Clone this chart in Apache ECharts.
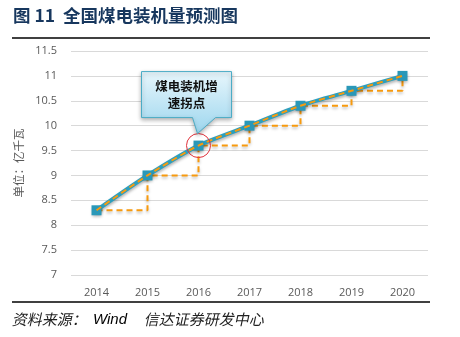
<!DOCTYPE html>
<html><head><meta charset="utf-8">
<script src="https://cdn.jsdelivr.net/npm/echarts@6/dist/echarts.min.js"></script>
<style>html,body{margin:0;padding:0;background:#fff}#c{width:460px;height:337px}</style>
</head><body><div id="c"></div>
<script>
const years = ['2014','2015','2016','2017','2018','2019','2020'];
const capacity = [8.3, 9.0, 9.6, 10.0, 10.4, 10.7, 11.0];
const yTicks = {min: 7, max: 11.5, interval: 0.5};
const titleText = '图 11  全国煤电装机量预测图';
const unitText = '单位：亿千瓦';
const calloutText = '煤电装机增\n速拐点';
const calloutYear = '2016';
const sourceCn1 = '资料来源：';
const sourceEn = 'Wind';
const sourceCn2 = '信达证券研发中心';

const teal = '#2C9FBE';
const orange = '#F79A0E';
const chart = echarts.init(document.getElementById('c'), null, {renderer: 'canvas'});
const font = '"Noto Sans CJK SC","Noto Sans",sans-serif';

chart.setOption({
  animation: false,
  textStyle: {fontFamily: font},
  grid: {left: 71, right: 32, top: 51, bottom: 62},
  xAxis: {
    type: 'category', data: years, boundaryGap: true,
    axisLine: {show: false}, axisTick: {show: false},
    axisLabel: {color: '#595959', fontSize: 11, margin: 12, fontFamily: '"Open Sans",sans-serif'}
  },
  yAxis: {
    type: 'value', min: yTicks.min, max: yTicks.max, interval: yTicks.interval,
    name: unitText, nameLocation: 'middle', nameGap: 44,
    nameTextStyle: {color: '#595959', fontSize: 11.5},
    axisLine: {show: false}, axisTick: {show: false},
    axisLabel: {color: '#595959', fontSize: 11, margin: 14, fontFamily: '"Open Sans",sans-serif'},
    splitLine: {lineStyle: {color: '#D9D9D9', width: 1}}
  },
  series: [
    {
      type: 'line', data: capacity, step: 'end', z: 2,
      symbol: 'none',
      lineStyle: {color: orange, width: 2, type: [6, 4], shadowColor: 'rgba(0,0,0,0.25)', shadowBlur: 3, shadowOffsetY: 2}
    },
    {
      type: 'line', data: capacity, smooth: 0.25, z: 3,
      symbol: 'rect', symbolSize: 10,
      itemStyle: {color: '#2A98B8', shadowColor: 'rgba(0,0,0,0.3)', shadowBlur: 3, shadowOffsetY: 2},
      lineStyle: {color: teal, width: 4, shadowColor: 'rgba(0,0,0,0.3)', shadowBlur: 3, shadowOffsetY: 2}
    },
    {
      type: 'line', data: capacity, smooth: 0.25, z: 4,
      symbol: 'none',
      lineStyle: {color: orange, width: 2, type: [6, 4]}
    }
  ]
});

const p = chart.convertToPixel({seriesIndex: 1}, [years.indexOf(calloutYear), capacity[years.indexOf(calloutYear)]]);
const px = p[0], py = p[1];
const L = px - 57, R = px + 33, T = py - 74, B = py - 28;

chart.setOption({
  graphic: [
    {type: 'text', left: 13, top: 7, style: {text: titleText, font: 'bold 17.5px ' + font, fill: '#17375E'}},
    {type: 'line', shape: {x1: 12, y1: 38, x2: 430, y2: 38}, style: {stroke: '#000', lineWidth: 1.5}},
    {type: 'line', shape: {x1: 12, y1: 302, x2: 430, y2: 302}, style: {stroke: '#000', lineWidth: 1.5}},
    {type: 'text', x: 93, y: 312, style: {text: sourceEn, font: 'italic 15px "Liberation Sans",Arial,sans-serif', fill: '#000'}},
    {type: 'circle', shape: {cx: px, cy: py, r: 12}, style: {fill: 'none', stroke: '#E0303A', lineWidth: 1}, z: 10},
    {type: 'polygon', z: 10,
      shape: {points: [[L, T], [R, T], [R, B], [px + 17, B], [px - 1, py - 12], [px - 6, B], [L, B]]},
      style: {
        fill: new echarts.graphic.LinearGradient(0, 0, 0, 1, [{offset: 0, color: '#E8F6FC'}, {offset: 1, color: '#9CD6EE'}]),
        stroke: '#4BACC6', lineWidth: 1,
        shadowColor: 'rgba(0,0,0,0.3)', shadowBlur: 4, shadowOffsetY: 2
      }
    },
    {type: 'text', z: 11, x: (L + R) / 2, y: (T + B) / 2,
      style: {text: calloutText, font: 'bold 12.5px ' + font, fill: '#111', align: 'center', verticalAlign: 'middle', lineHeight: 17}}
  ]
});

// slanted (italic-looking) Chinese source text
const zr = chart.getZr();
[[sourceCn1, 13], [sourceCn2, 145]].forEach(function (d) {
  const t = new echarts.graphic.Text({
    x: d[1], y: 312, skewX: -0.22, originX: 0, originY: 8,
    style: {text: d[0], font: '15px ' + font, fill: '#222'},
    z: 100
  });
  zr.add(t);
});
</script>
</body></html>
